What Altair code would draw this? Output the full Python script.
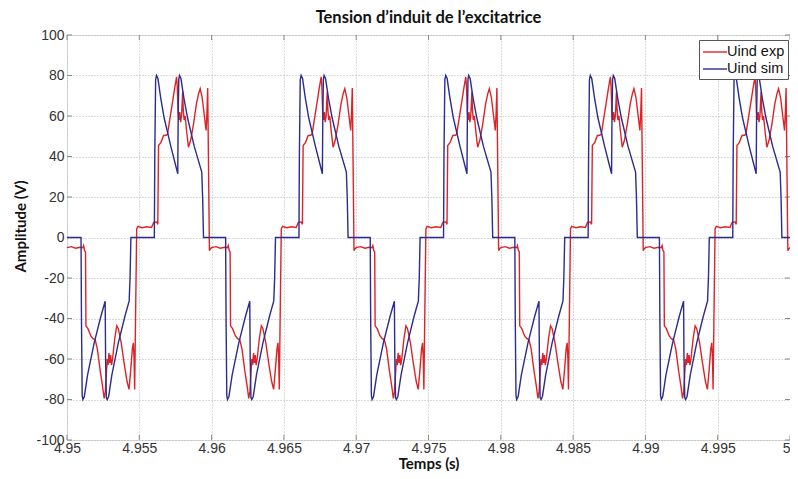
import altair as alt
import pandas as pd

# ---- data (one period repeats every 10 ms) ----
PERIOD_STARTS = [4.95, 4.96, 4.97, 4.98, 4.99]

SIM_OFFSET_MS = [0.00, 0.97, 1.00, 1.05, 1.10, 1.20, 1.42, 1.88, 2.34, 2.64,
                 2.67, 2.72, 2.78, 2.88, 3.10, 3.55, 4.00, 4.30, 4.36, 4.42,
                 6.04, 6.07, 6.13, 6.19, 6.29, 6.48, 6.72, 7.18, 7.66, 7.69,
                 7.73, 7.78, 7.88, 8.08, 8.34, 8.80, 9.32, 9.38, 9.44, 10.00]
SIM_VALUES = [0, 0, -40, -78, -80, -78.5, -68, -52, -39, -31.5,
              -60, -79, -80, -78.5, -68, -52, -39, -31.3, -20, 0,
              0, 40, 78, 80, 78.5, 69, 59, 45, 31.5, 60,
              78, 80, 78.5, 69, 59, 45, 32.3, 20, 0, 0]

EXP_OFFSET_MS = [0.00, 0.30, 0.60, 0.90, 1.10, 1.15, 1.22, 1.28, 1.31, 1.45,
                 1.65, 1.80, 1.95, 2.10, 2.30, 2.45, 2.57, 2.65, 2.78, 2.84,
                 2.90, 2.96, 3.02, 3.08, 3.15, 3.30, 3.44, 3.55, 3.75, 3.95,
                 4.15, 4.29, 4.40, 4.52, 4.59, 4.64, 4.68, 4.74, 4.82, 4.90,
                 5.20, 5.50, 5.85, 6.00, 6.20, 6.28, 6.33, 6.50, 6.68, 6.85,
                 6.95, 7.10, 7.30, 7.45, 7.58, 7.63, 7.68, 7.74, 7.80, 7.86,
                 7.92, 8.00, 8.04, 8.10, 8.17, 8.28, 8.40, 8.55, 8.75, 8.95,
                 9.10, 9.21, 9.35, 9.50, 9.62, 9.68, 9.73, 9.78, 9.85, 9.92,
                 10.00]
EXP_VALUES = [-5, -4.5, -5.3, -4.8, -5, -4, -6.5, -7, -43.6, -45,
              -48.6, -50, -50.5, -55, -66, -73, -79.5, -76, -60, -63,
              -57, -62, -58, -63, -60, -50, -43.6, -45, -52, -62,
              -71, -75, -66, -55, -52, -60, -75, -40, 4.2, 5.5,
              4.8, 5.3, 5, 7.5, 7.7, 6.5, 45.4, 47, 50.4, 50.5,
              51, 58, 67, 74, 79.3, 74, 62, 58, 62, 57,
              60, 72, 63, 58, 60, 52, 44.6, 48, 56, 66,
              71, 73.5, 69, 60, 52.9, 62, 73.8, 40, -6.5, -5.5,
              -5]

SERIES = ["Uind exp", "Uind sim"]
COLORS = ["#dc2428", "#2b2c8c"]
X_TICKS = [4.95, 4.955, 4.96, 4.965, 4.97, 4.975, 4.98, 4.985, 4.99, 4.995, 5.0]
Y_TICKS = [-100, -80, -60, -40, -20, 0, 20, 40, 60, 80, 100]

rows = []
idx = 0
for name, offs, vals in [(SERIES[0], EXP_OFFSET_MS, EXP_VALUES),
                         (SERIES[1], SIM_OFFSET_MS, SIM_VALUES)]:
    for start in PERIOD_STARTS:
        for o, v in zip(offs, vals):
            rows.append({"t": start + o / 1000.0, "v": v, "series": name, "idx": idx})
            idx += 1
df = pd.DataFrame(rows)
df_xt = pd.DataFrame({"t": X_TICKS})
df_yt = pd.DataFrame({"v": Y_TICKS})

W, H = 723, 405
FRAME = "#8a8a8a"
LABEL_STYLE = dict(labelFont="Liberation Sans", labelFontSize=14, labelColor="#333333",
                   labelOverlap=False, labelExpr="toString(datum.value)",
                   titleFont="Lato", titleFontSize=15, titleFontWeight="bold",
                   titleColor="#111111", titleBaseline="alphabetic",
                   grid=True, gridDash=[1, 2], gridColor="#b5b5b5", gridWidth=1,
                   domain=False, ticks=False)

xs = alt.Scale(domain=[4.95, 5.0], nice=False, zero=False)
ys = alt.Scale(domain=[-100, 100], nice=False, zero=False)
xaxis = alt.Axis(values=X_TICKS, title="Temps (s)", labelPadding=1, titleY=28,
                 labelFlush=False,
                 labelAlign={"condition": {"test": "datum.value >= 5", "value": "right"},
                             "value": "center"},
                 **LABEL_STYLE)
yaxis = alt.Axis(values=Y_TICKS, title="Amplitude (V)", labelPadding=3, titleX=-42,
                 titleY=191, labelFlush=False, **LABEL_STYLE)

X = alt.X("t:Q", scale=xs, axis=xaxis)
Y = alt.Y("v:Q", scale=ys, axis=yaxis)

lines = alt.Chart(df).mark_line(strokeWidth=1.4, clip=True).encode(
    x=X, y=Y,
    color=alt.Color("series:N", scale=alt.Scale(domain=SERIES, range=COLORS),
                    legend=alt.Legend(title=None, orient="none", legendX=632, legendY=5,
                                      symbolType="M-1,0H2", symbolSize=256,
                                      symbolStrokeWidth=1.4, labelFont="Liberation Sans",
                                      labelFontSize=14.5, labelColor="#111111",
                                      labelOffset=7, rowPadding=1, padding=3,
                                      strokeColor="#555555", fillColor="white")),
    order=alt.Order("idx:Q"),
)

tick_top = alt.Chart(df_xt).mark_rule(color=FRAME).encode(x=X, y=alt.value(0), y2=alt.value(5))
tick_bot = alt.Chart(df_xt).mark_rule(color=FRAME).encode(x=X, y=alt.value(H), y2=alt.value(H - 5))
tick_lft = alt.Chart(df_yt).mark_rule(color=FRAME).encode(y=Y, x=alt.value(0), x2=alt.value(5))
tick_rgt = alt.Chart(df_yt).mark_rule(color=FRAME).encode(y=Y, x=alt.value(W), x2=alt.value(W - 5))

chart = alt.layer(tick_top, tick_bot, tick_lft, tick_rgt, lines).properties(
    width=W, height=H,
    padding={"left": 59, "top": 27, "right": 0, "bottom": 31},
    autosize=alt.AutoSizeParams(type="none"),
    title=alt.TitleParams("Tension d’induit de l’excitatrice", font="Lato",
                          fontSize=16.5, fontWeight="bold", color="#111111",
                          anchor="middle", offset=2),
).configure_view(
    stroke=FRAME, strokeWidth=1
).configure(background="white")

chart.save("out.html", embed_options={"renderer": "svg", "actions": False})
